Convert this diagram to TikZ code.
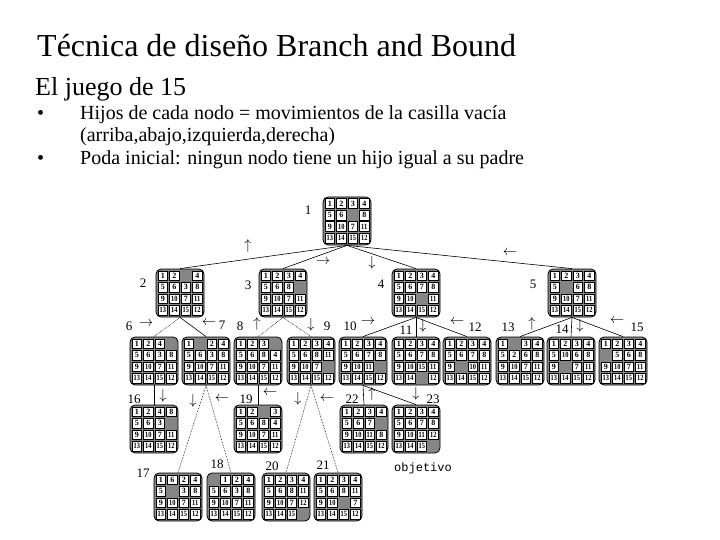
\documentclass[tikz,border=0pt]{standalone}
\usepackage{fontspec}
\setmainfont{Liberation Serif}
\newfontfamily\objfont{Liberation Mono}
\usetikzlibrary{calc}
\tikzset{
 board/.style={draw=black, fill=black!48, rounded corners=5pt, minimum width=48pt, minimum height=48pt, inner sep=0pt, line width=0.8pt},
 tile/.style={draw=black, fill=white, minimum size=9.8pt, inner sep=0pt, line width=0.7pt, font=\fontsize{8}{8}\selectfont\bfseries},
 lbl/.style={font=\fontsize{13}{13}\selectfont, inner sep=0pt},
 arr/.style={font=\fontsize{15}{15}\selectfont, inner sep=0pt},
 edge/.style={draw=black, line width=0.6pt},
 dotedge/.style={draw=black, line width=0.6pt, densely dotted},
 txt/.style={anchor=base west, inner sep=0pt, font=\fontsize{20}{20}\selectfont},
}
\newcommand\pzl[3]{%
 \node[board] (#1) at (#2) {};
 \foreach \v [count=\i from 0] in {#3} {%
   \pgfmathtruncatemacro\cc{mod(\i,4)}%
   \pgfmathtruncatemacro\rr{div(\i,4)}%
   \pgfmathsetmacro\dx{-17.25+11.5*\cc}%
   \pgfmathsetmacro\dy{17.25-11.5*\rr}%
   \ifnum\v>0
     \node[tile] (#1-\i) at ([xshift=\dx pt,yshift=\dy pt]#1.center) {\ifnum\v>9 \scalebox{0.8}[1]{\v}\else\v\fi};
   \fi
 }%
}
\begin{document}
\begin{tikzpicture}[x=1pt,y=-1pt]
\useasboundingbox (0,0) rectangle (720,540);
\fill[white] (0,0) rectangle (720,540);
% titles
\node[anchor=base west, inner sep=0pt, font=\fontsize{32}{32}\selectfont] (title) at (37,57) {Técnica de diseño Branch and Bound};
\node[anchor=base west, inner sep=0pt, font=\fontsize{26}{26}\selectfont] (sub) at (35,96) {El juego de 15};
\node[txt] (b1) at (37,120) {\textbullet};
\node[txt] (t1) at (80,120) {Hijos de cada nodo = movimientos de la casilla vacía};
\node[txt] (t2) at (80,142) {(arriba,abajo,izquierda,derecha)};
\node[txt] (b2) at (37,165) {\textbullet};
\node[txt] (t3) at (80,165) {Poda inicial: ningun nodo tiene un hijo igual a su padre};
% boards
\pzl{n1}{347,221}{1,2,3,4,5,6,0,8,9,10,7,11,13,14,15,12}
\pzl{n2}{180,293}{1,2,0,4,5,6,3,8,9,10,7,11,13,14,15,12}
\pzl{n3}{283,293}{1,2,3,4,5,6,8,0,9,10,7,11,13,14,15,12}
\pzl{n4}{416,293}{1,2,3,4,5,6,7,8,9,10,0,11,13,14,15,12}
\pzl{n5}{572,293}{1,2,3,4,5,0,6,8,9,10,7,11,13,14,15,12}
\pzl{n6}{154,361}{1,2,4,0,5,6,3,8,9,10,7,11,13,14,15,12}
\pzl{n7}{206,361}{1,0,2,4,5,6,3,8,9,10,7,11,13,14,15,12}
\pzl{n8}{258,361}{1,2,3,0,5,6,8,4,9,10,7,11,13,14,15,12}
\pzl{n9}{311,361}{1,2,3,4,5,6,8,11,9,10,7,0,13,14,15,12}
\pzl{n10}{363,361}{1,2,3,4,5,6,7,8,9,10,11,0,13,14,15,12}
\pzl{n11}{416,361}{1,2,3,4,5,6,7,8,9,10,15,11,13,14,0,12}
\pzl{n12}{467,361}{1,2,3,4,5,6,7,8,9,0,10,11,13,14,15,12}
\pzl{n13}{520,361}{1,0,3,4,5,2,6,8,9,10,7,11,13,14,15,12}
\pzl{n14}{571,361}{1,2,3,4,5,10,6,8,9,0,7,11,13,14,15,12}
\pzl{n15}{623,361}{1,2,3,4,0,5,6,8,9,10,7,11,13,14,15,12}
\pzl{n16}{154,429}{1,2,4,8,5,6,3,0,9,10,7,11,13,14,15,12}
\pzl{n19}{258,429}{1,2,0,3,5,6,8,4,9,10,7,11,13,14,15,12}
\pzl{n22}{364,429}{1,2,3,4,5,6,7,0,9,10,11,8,13,14,15,12}
\pzl{n23}{416,429}{1,2,3,4,5,6,7,8,9,10,11,12,13,14,15,0}
\pzl{n17}{178,497}{1,6,2,4,5,0,3,8,9,10,7,11,13,14,15,12}
\pzl{n18}{231,497}{0,1,2,4,5,6,3,8,9,10,7,11,13,14,15,12}
\pzl{n20}{286,497}{1,2,3,4,5,6,8,11,9,10,7,12,13,14,15,0}
\pzl{n21}{338,497}{1,2,3,4,5,6,8,11,9,10,0,7,13,14,15,12}
% connectors
\draw[edge] (n1.south) -- (n2.north);
\draw[edge] (n1.south) -- (n3.north);
\draw[edge] (n1.south) -- (n4.north);
\draw[edge] (n1.south) -- (n5.north);
\draw[dotedge] (n2.south) -- (n6.north);
\draw[edge] (n2.south) -- (n7.north);
\draw[dotedge] (n3.south) -- (n8.north);
\draw[dotedge] (n3.south) -- (n9.north);
\draw[edge] (n4.south) -- (n10.north);
\draw[edge] (n4.south) -- (n11.north);
\draw[edge] (n4.south) -- (n12.north);
\draw[edge] (n5.south) -- (n13.north);
\draw[edge] (n5.south) -- (n14.north);
\draw[edge] (n5.south) -- (n15.north);
\draw[edge] (n6.south) -- (n16.north);
\draw[dotedge] (n7.south) -- (n17.north);
\draw[dotedge] (n7.south) -- (n18.north);
\draw[edge] (n8.south) -- (n19.north);
\draw[dotedge] (n9.south) -- (n20.north);
\draw[dotedge] (n9.south) -- (n21.north);
\draw[edge] (n10.south) -- (n22.north);
\draw[edge] (n10.south) -- (n23.north);
% number labels
\node[lbl] (l1) at (308,210) {1};
\node[lbl] (l2) at (143,283) {2};
\node[lbl] (l3) at (248,285) {3};
\node[lbl] (l4) at (381,284) {4};
\node[lbl] (l5) at (533,284) {5};
\node[lbl] (l6) at (129,326) {6};
\node[lbl] (l7) at (222,325) {7};
\node[lbl] (l8) at (240,326) {8};
\node[lbl] (l9) at (327,326) {9};
\node[lbl] (l10) at (350,326) {10};
\node[lbl] (l11) at (406,330) {11};
\node[lbl] (l12) at (475,327) {12};
\node[lbl] (l13) at (508,327) {13};
\node[lbl] (l14) at (562,329) {14};
\node[lbl] (l15) at (637,327) {15};
\node[lbl] (l16) at (134,399) {16};
\node[lbl] (l19) at (246,399) {19};
\node[lbl] (l22) at (352,399) {22};
\node[lbl] (l23) at (433,399) {23};
\node[lbl] (l17) at (143,473) {17};
\node[lbl] (l18) at (217,464) {18};
\node[lbl] (l20) at (272,466) {20};
\node[lbl] (l21) at (323,465) {21};
\node[lbl, font=\objfont\fontsize{12}{12}\selectfont] (goal) at (423,468) {objetivo};
% move arrows
\node[arr] (a2) at (248,246) {$\uparrow$};
\node[arr] (a3) at (323,262) {$\rightarrow$};
\node[arr] (a4) at (372,263) {$\downarrow$};
\node[arr] (a5) at (510,253) {$\leftarrow$};
\node[arr] (a6) at (146,324) {$\rightarrow$};
\node[arr] (a7) at (209,323) {$\leftarrow$};
\node[arr] (a8) at (257,324) {$\uparrow$};
\node[arr] (a9) at (311,325) {$\downarrow$};
\node[arr] (a10) at (368,322) {$\rightarrow$};
\node[arr] (a11) at (423,326) {$\downarrow$};
\node[arr] (a12) at (457,322) {$\leftarrow$};
\node[arr] (a13) at (532,324) {$\uparrow$};
\node[arr] (a14) at (580,326) {$\downarrow$};
\node[arr] (a15) at (617,321) {$\leftarrow$};
\node[arr] (a16) at (163,396) {$\downarrow$};
\node[arr] (a17) at (193,401) {$\downarrow$};
\node[arr] (a18) at (222,399) {$\leftarrow$};
\node[arr] (a19) at (270,393) {$\leftarrow$};
\node[arr] (a20) at (298,399) {$\downarrow$};
\node[arr] (a21) at (327,399) {$\leftarrow$};
\node[arr] (a22) at (372,394) {$\uparrow$};
\node[arr] (a23) at (416,394) {$\downarrow$};
\end{tikzpicture}
\end{document}
